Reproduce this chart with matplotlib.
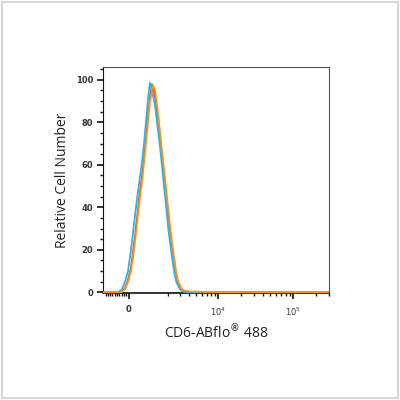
import numpy as np
import matplotlib
matplotlib.use("Agg")
import matplotlib.pyplot as plt
from matplotlib.patches import Rectangle
from matplotlib.ticker import FixedLocator, FixedFormatter

# ---- data (fluorescence intensity, relative cell number) ----
cyan_x = [-1157, -623, -451, -283, -161, -40, 80, 202, 283, 408, 536, 624, 714, 807,
          902, 1002, 1159, 1270, 1447, 1572, 1704, 1843, 1988, 2217, 2468, 2639,
          2915, 3212, 3887, 5711, 302000]
cyan_y = [0, 0, 0.2, 1.4, 5, 10, 20, 32, 40, 51, 61, 70, 80, 91,
          98.6, 95, 88, 80, 68, 59, 49, 40, 30, 19, 9, 5,
          2, 0.5, 0.1, 0, 0]

orange_x = [-1157, -324, -161, -40, 80, 202, 324, 408, 536, 624, 714, 807, 902, 951,
            1002, 1053, 1159, 1270, 1382, 1572, 1704, 1843, 1988, 2137, 2353, 2639,
            2819, 3107, 3420, 4148, 5711, 7102, 8299, 302000]
orange_y = [0, 0, 1.4, 5, 10, 20, 32, 41, 52, 61, 70, 80, 90, 92,
            95, 97.5, 95, 88, 80, 66, 57, 48, 39, 30, 20, 9,
            5, 2, 0.8, 0.4, 0.3, 0.1, 0, 0]

red_x = [-1157, -324, -161, -40, 80, 202, 324, 408, 536, 624, 714, 807, 902,
         1002, 1053, 1159, 1270, 1382, 1572, 1704, 1843, 1988, 2137, 2353, 2639,
         2819, 3107, 3420, 4148, 302000]
red_y = [0, 0.2, 2, 6, 12, 23, 35, 44, 55, 63, 73, 83, 92,
         98, 96, 92, 85, 78, 64, 55, 46, 37, 28, 18, 8,
         4, 1.5, 0.5, 0.1, 0]

x_major = [0, 1e4, 1e5]
x_major_labels = ["0", r"$10^4$", r"$10^5$"]
y_major = [0, 20, 40, 60, 80, 100]

C = 1309.0
def fwd(x):
    return np.arcsinh(np.asarray(x, dtype=float) / C)
def inv(u):
    return C * np.sinh(np.asarray(u, dtype=float))

fig = plt.figure(figsize=(4, 4), dpi=100)
fig.patch.set_facecolor("white")
fig.patches.append(Rectangle((0.004, 0.004), 0.99, 0.99, transform=fig.transFigure,
                             fill=False, edgecolor="#d6d6d6", linewidth=1.5))

ax = fig.add_axes([0.2575, 0.2675, 0.565, 0.565])
ax.set_xscale("function", functions=(fwd, inv))
ax.set_xlim(-1157, 302000)
ax.set_ylim(-0.3, 106)

ax.plot(red_x, red_y, color="#e8483f", lw=1.2, zorder=3)
ax.plot(cyan_x, cyan_y, color="#2bb5e6", lw=1.3, zorder=4)
ax.plot(orange_x, orange_y, color="#f7921e", lw=1.3, zorder=5)

# ticks
minor_x = ([-v for v in range(100, 1100, 100)] +
           [2000, 3000, 4000, 5000, 6000, 7000, 8000, 9000] +
           [2e4, 3e4, 4e4, 5e4, 6e4, 7e4, 8e4, 9e4, 2e5, 3e5])
ax.xaxis.set_major_locator(FixedLocator(x_major))
ax.xaxis.set_major_formatter(FixedFormatter(x_major_labels))
ax.xaxis.set_minor_locator(FixedLocator(minor_x))
ax.yaxis.set_major_locator(FixedLocator(y_major))
ax.yaxis.set_minor_locator(FixedLocator(list(range(0, 106, 5))))

ax.tick_params(axis="both", which="major", direction="out", length=4, width=1.2,
               color="#111111", labelsize=6, labelcolor="#333333")
ax.tick_params(axis="both", which="minor", direction="out", length=2.5, width=1.0,
               color="#111111")
for lab in ax.get_xticklabels() + ax.get_yticklabels():
    lab.set_fontweight("bold")
ax.tick_params(axis="x", pad=5)
ax.tick_params(axis="y", pad=3)

for s in ["top", "right"]:
    ax.spines[s].set_color("#555555")
    ax.spines[s].set_linewidth(0.8)
ax.spines["bottom"].set_color("#111111")
ax.spines["bottom"].set_linewidth(1.2)
ax.spines["left"].set_color("#111111")
ax.spines["left"].set_linewidth(0.8)

ax.set_xlabel("CD6-ABflo$^{®}$ 488", fontsize=10, family="Open Sans", color="#222222", labelpad=4)
ax.set_ylabel("Relative Cell Number", fontsize=10, family="Open Sans", color="#222222", labelpad=4)

fig.savefig("out.png", dpi=100, facecolor="white")
